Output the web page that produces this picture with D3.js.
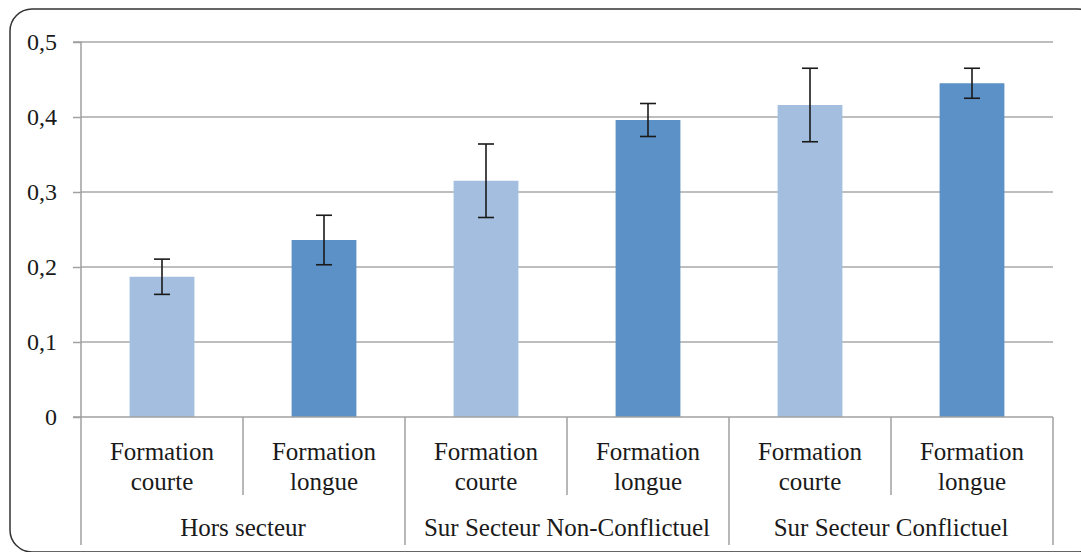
<!DOCTYPE html>
<html>
<head>
<meta charset="utf-8">
<script src="https://cdn.jsdelivr.net/npm/d3@7"></script>
<style>
html,body{margin:0;padding:0;background:#fff;}
svg{display:block;}
</style>
</head>
<body>
<svg id="chart" width="1081" height="552"></svg>
<script>
// Data
const groups = ["Hors secteur", "Sur Secteur Non-Conflictuel", "Sur Secteur Conflictuel"];
const subLabels = [["Formation", "courte"], ["Formation", "longue"]];
const values = [0.187, 0.236, 0.315, 0.396, 0.416, 0.445];
const errors = [0.0235, 0.033, 0.049, 0.022, 0.049, 0.020];
const kinds = ["courte", "longue", "courte", "longue", "courte", "longue"];
const yTicks = [0, 0.1, 0.2, 0.3, 0.4, 0.5];
const yTickLabels = ["0", "0,1", "0,2", "0,3", "0,4", "0,5"];
const colors = {courte: "#A3BEDF", longue: "#5B91C6"};

const FONT = "Liberation Serif";
const svg = d3.select("#chart");
const mLeft = 81, mRight = 1053, mTop = 42, mBottom = 417;

// frame
svg.append("rect").attr("x", 10).attr("y", 9).attr("width", 1090).attr("height", 543)
  .attr("rx", 22).attr("ry", 22).attr("fill", "none").attr("stroke", "#333").attr("stroke-width", 1.5);

const idx = d3.range(values.length);
const x = d3.scaleBand().domain(idx).range([mLeft, mRight]).paddingInner(0).paddingOuter(0);
const y = d3.scaleLinear().domain([0, 0.5]).range([mBottom, mTop]);
const barW = x.bandwidth() * 0.4;

// gridlines
svg.append("g").selectAll("line").data(yTicks.slice(1)).join("line")
  .attr("x1", mLeft).attr("x2", mRight)
  .attr("y1", d => y(d)).attr("y2", d => y(d))
  .attr("stroke", "#A8A8A8").attr("stroke-width", 1.5);

// bars
svg.append("g").selectAll("rect").data(idx).join("rect")
  .attr("x", i => x(i) + (x.bandwidth() - barW) / 2)
  .attr("y", i => y(values[i]))
  .attr("width", barW)
  .attr("height", i => y(0) - y(values[i]))
  .attr("fill", i => colors[kinds[i]]);

// y axis
const yAxis = d3.axisLeft(y).tickValues(yTicks).tickFormat((d, i) => yTickLabels[i]).tickSize(8).tickPadding(16);
const gy = svg.append("g").attr("transform", `translate(${mLeft},0)`).call(yAxis)
  .attr("font-family", FONT).attr("font-size", 24);
gy.select(".domain").attr("stroke", "#A0A0A0").attr("stroke-width", 1.5).attr("d", `M-8,${mTop}H0V${mBottom}H-8`);
gy.selectAll(".tick line").attr("stroke", "#A0A0A0").attr("stroke-width", 1.5);
gy.selectAll(".tick text").attr("font-family", FONT).attr("font-size", 24).attr("fill", "#1a1a1a").attr("dy", "0.3em");

// x axis line
svg.append("line").attr("x1", mLeft).attr("x2", mRight).attr("y1", mBottom).attr("y2", mBottom)
  .attr("stroke", "#A0A0A0").attr("stroke-width", 1.5);

// error bars
const eb = svg.append("g").attr("stroke", "#1a1a1a").attr("stroke-width", 1.6);
idx.forEach(i => {
  const cx = x(i) + x.bandwidth() / 2;
  const y1 = y(values[i] + errors[i]), y2 = y(values[i] - errors[i]);
  eb.append("line").attr("x1", cx).attr("x2", cx).attr("y1", y1).attr("y2", y2);
  eb.append("line").attr("x1", cx - 8).attr("x2", cx + 8).attr("y1", y1).attr("y2", y1);
  eb.append("line").attr("x1", cx - 8).attr("x2", cx + 8).attr("y1", y2).attr("y2", y2);
});

// separators
const sep = svg.append("g").attr("stroke", "#A0A0A0").attr("stroke-width", 1.5);
d3.range(values.length + 1).forEach(k => {
  const xx = k < values.length ? x(k) : mRight;
  const isGroup = k % 2 === 0;
  sep.append("line").attr("x1", xx).attr("x2", xx).attr("y1", mBottom).attr("y2", isGroup ? 545 : 495);
});

// category labels
const lab = svg.append("g").attr("font-family", FONT).attr("font-size", 25).attr("fill", "#1a1a1a").attr("text-anchor", "middle");
idx.forEach(i => {
  const cx = x(i) + x.bandwidth() / 2;
  const l = subLabels[i % 2];
  lab.append("text").attr("x", cx).attr("y", 460).text(l[0]);
  lab.append("text").attr("x", cx).attr("y", 490).text(l[1]);
});
groups.forEach((g, j) => {
  const cx = (x(2 * j) + x(2 * j + 1) + x.bandwidth()) / 2;
  lab.append("text").attr("x", cx).attr("y", 536).text(g);
});
</script>
</body>
</html>
